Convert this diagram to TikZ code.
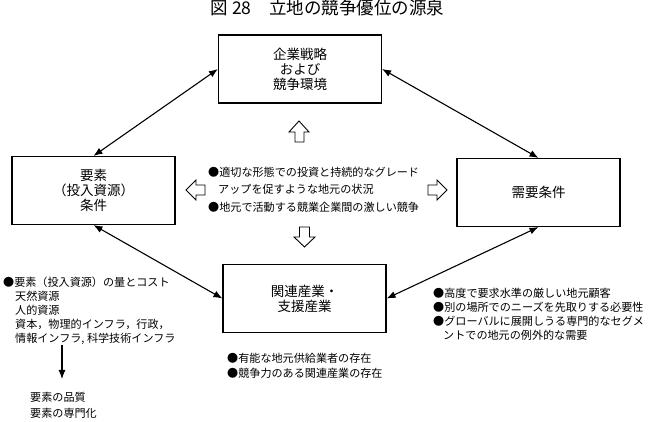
\documentclass[tikz,border=0pt]{standalone}
\usepackage{fontspec}
\setmainfont{Noto Sans CJK JP}
\usetikzlibrary{arrows.meta}
\tikzset{
  boxnode/.style={draw, line width=1.1pt, minimum width=163pt, minimum height=68pt, inner sep=0pt, align=center, font=\fontsize{13.5}{15}\selectfont},
  textblock/.style={inner sep=0pt, align=left, anchor=north west},
  link/.style={line width=1.1pt, {Latex[length=9pt,width=7pt]}-{Latex[length=9pt,width=7pt]}},
  hollow/.style={draw, line width=0.9pt, fill=white, line join=miter},
}
\begin{document}
\begin{tikzpicture}[x=1pt,y=-1pt]
\useasboundingbox (0,0) rectangle (649,422);
\node[inner sep=0pt, font=\fontsize{17.5}{19}\selectfont] (title) at (327.5,8) {図 28\quad 立地の競争優位の源泉};
\node[boxnode] (tb) at (300,69) {企業戦略\\および\\競争環境};
\node[boxnode] (lb) at (93.5,190.5) {要素\\（投入資源）\\条件};
\node[boxnode] (rb) at (538.5,192.5) {需要条件};
\node[boxnode] (bb) at (304.5,298.5) {関連産業・\\支援産業};
\draw[link] (lb.north) -- (tb.west);
\draw[link] (tb.east) -- (rb.north);
\draw[link] (lb.south) -- (bb.west);
\draw[link] (bb.east) -- (rb.south);
% hollow arrows
\draw[hollow] (299,121) -- (309,132) -- (304,132) -- (304,142) -- (295,142) -- (295,132) -- (289,132) -- cycle;
\draw[hollow] (304.5,247) -- (315,237) -- (309.5,237) -- (309.5,227) -- (299.5,227) -- (299.5,237) -- (294,237) -- cycle;
\draw[hollow] (186,190) -- (196,180) -- (196,185) -- (205,185) -- (205,195) -- (196,195) -- (196,200) -- cycle;
\draw[hollow] (447,190) -- (437,180) -- (437,185) -- (428,185) -- (428,195) -- (437,195) -- (437,200) -- cycle;
% center text
\node[textblock, font=\fontsize{11.1}{17.5}\selectfont] (ct) at (208,166.5) {●適切な形態での投資と持続的なグレード\\\hspace{10pt}アップを促すような地元の状況\\●地元で活動する競業企業間の激しい競争};
% bottom-left text
\node[textblock, font=\fontsize{11.1}{14}\selectfont] (lt) at (3,276.5) {●要素（投入資源）の量とコスト\\\hspace{12pt}天然資源\\\hspace{12pt}人的資源\\\hspace{12pt}資本，物理的インフラ，行政，\\\hspace{12pt}情報インフラ, 科学技術インフラ};
\coordinate (a1) at (62,345);
\coordinate (a2) at (62,379);
\draw[line width=1.1pt, -{Latex[length=9pt,width=7pt]}] (a1) -- (a2);
\node[textblock, font=\fontsize{11.1}{16}\selectfont] (qt) at (30,391.5) {要素の品質\\要素の専門化};
% bottom-center text
\node[textblock, font=\fontsize{11.1}{15}\selectfont] (bt) at (227,352.5) {●有能な地元供給業者の存在\\●競争力のある関連産業の存在};
% bottom-right text
\node[textblock, font=\fontsize{11.1}{14}\selectfont] (rt) at (433,287.5) {●高度で要求水準の厳しい地元顧客\\●別の場所でのニーズを先取りする必要性\\●グローバルに展開しうる専門的なセグメ\\\hspace{10pt}ントでの地元の例外的な需要};
\end{tikzpicture}
\end{document}
